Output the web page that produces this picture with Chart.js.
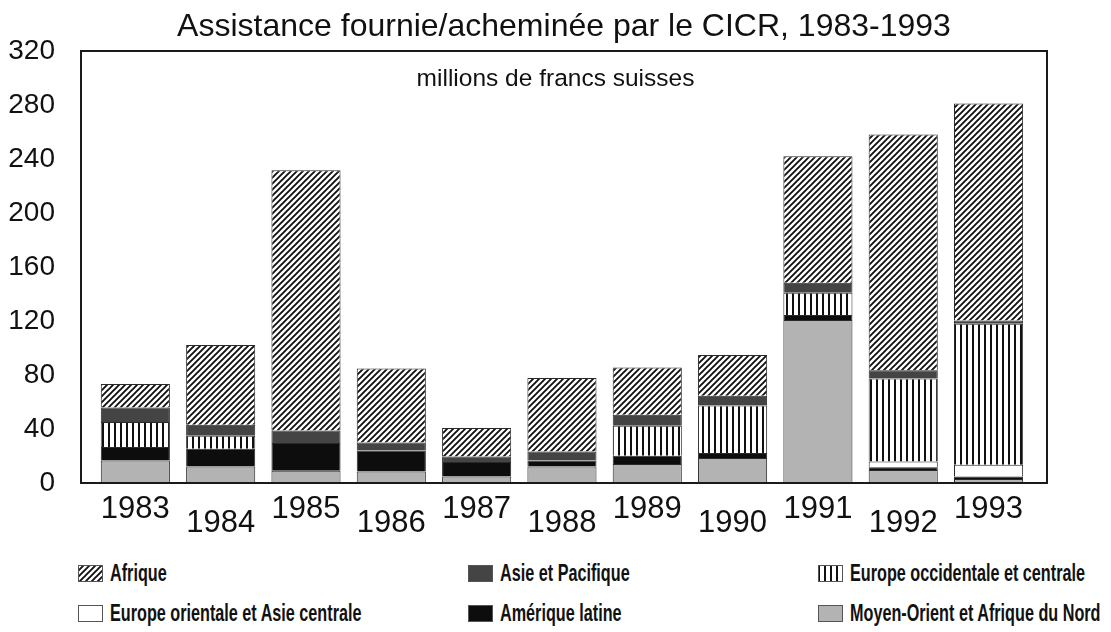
<!DOCTYPE html>
<html>
<head>
<meta charset="utf-8">
<script src="https://cdn.jsdelivr.net/npm/chart.js@4"></script>
<style>
  body { margin: 0; background: #fff; }
  #wrap { position: relative; width: 1111px; height: 632px; overflow: hidden; }
  #c { position: absolute; left: 0; top: 0; }
  .item { position: absolute; height: 17px; }
  .item canvas { position: absolute; left: 0; top: 0; }
  .item span {
    position: absolute; left: 32px; top: -6px; white-space: nowrap;
    font-family: "Liberation Sans", Arial, sans-serif;
    font-weight: bold; font-size: 24px; line-height: 28px; color: #111;
    transform: scaleX(0.675); transform-origin: left center;
  }
</style>
</head>
<body>
<div id="wrap">
  <canvas id="c" width="1111" height="545"></canvas>
  <div id="legend"></div>
</div>
<script>
// values, millions de francs suisses
const years = ['1983', '1984', '1985', '1986', '1987', '1988', '1989', '1990', '1991', '1992', '1993'];
const moyenOrient       = [16.7, 12.3, 9.1, 8.6, 4.9, 12.3, 14.1, 18.5, 120.8, 9.6, 3.0];
const ameriqueLatine    = [9.9, 13.1, 20.5, 15.5, 10.6, 4.4, 6.1, 3.7, 3.7, 2.0, 1.9];
const europeOrientale   = [null, null, null, null, null, null, null, null, null, 4.4, 8.7];
const europeOccidentale = [18.5, 9.6, null, null, null, null, 22.2, 35.2, 16.5, 61.4, 104.3];
const asiePacifique     = [10.8, 8.1, 9.3, 5.9, 4.2, 6.7, 8.1, 7.2, 7.4, 6.2, 2.4];
const afrique           = [17.5, 59.2, 192.8, 54.8, 21.0, 54.3, 35.0, 30.3, 93.7, 174.5, 160.8];
const yTicks = [0, 40, 80, 120, 160, 200, 240, 280, 320];

const title = 'Assistance fournie/acheminée par le CICR, 1983-1993';
const subtitle = 'millions de francs suisses';

// fills: hatch, stripes or plain colour
function makeFill(ctx, kind) {
  const t = document.createElement('canvas');
  const g = t.getContext('2d');
  if (kind === 'hatch') {
    t.width = 6; t.height = 6;
    g.fillStyle = '#fff'; g.fillRect(0, 0, 6, 6);
    g.strokeStyle = '#111'; g.lineWidth = 1.9;
    g.beginPath();
    g.moveTo(-1, 7); g.lineTo(7, -1);
    g.moveTo(-4, 4); g.lineTo(4, -4);
    g.moveTo(2, 10); g.lineTo(10, 2);
    g.stroke();
    return ctx.createPattern(t, 'repeat');
  }
  if (kind === 'stripes') {
    t.width = 6; t.height = 2;
    g.fillStyle = '#fff'; g.fillRect(0, 0, 6, 2);
    g.fillStyle = '#111'; g.fillRect(0, 0, 2, 2);
    return ctx.createPattern(t, 'repeat');
  }
  return kind;
}

const series = [
  { label: 'Moyen-Orient et Afrique du Nord', values: moyenOrient, fill: '#b3b3b3' },
  { label: 'Amérique latine', values: ameriqueLatine, fill: '#0d0d0d' },
  { label: 'Europe orientale et Asie centrale', values: europeOrientale, fill: '#ffffff' },
  { label: 'Europe occidentale et centrale', values: europeOccidentale, fill: 'stripes' },
  { label: 'Asie et Pacifique', values: asiePacifique, fill: '#444444' },
  { label: 'Afrique', values: afrique, fill: 'hatch' }
];
const legendRows = [
  ['Afrique', 'Asie et Pacifique', 'Europe occidentale et centrale'],
  ['Europe orientale et Asie centrale', 'Amérique latine', 'Moyen-Orient et Afrique du Nord']
];

const canvas = document.getElementById('c');
const ctx = canvas.getContext('2d');

const frameAndText = {
  id: 'frameAndText',
  afterDatasetsDraw(chart) {
    const a = chart.chartArea;
    const c = chart.ctx;
    c.save();
    c.strokeStyle = '#1a1a1a';
    c.lineWidth = 2;
    c.strokeRect(a.left, a.top, a.right - a.left, a.bottom - a.top);
    c.fillStyle = '#111';
    c.textAlign = 'center';
    c.textBaseline = 'middle';
    c.font = '32px "Liberation Sans", Arial, sans-serif';
    c.fillText(title, (a.left + a.right) / 2, 27);
    c.font = '24.5px "Liberation Sans", Arial, sans-serif';
    c.fillText(subtitle, chart.width / 2, a.top + 28);
    c.restore();
  }
};

Chart.defaults.font.family = '"Liberation Sans", Arial, sans-serif';
Chart.defaults.color = '#111';

const chart = new Chart(ctx, {
  type: 'bar',
  data: {
    datasets: series.map(s => ({
      label: s.label,
      data: s.values.map((v, i) => ({ x: i, y: v })),
      backgroundColor: makeFill(ctx, s.fill),
      borderColor: '#2a2a2a',
      borderWidth: 1,
      categoryPercentage: 0.9,
      barPercentage: 0.9
    }))
  },
  options: {
    responsive: false,
    animation: false,
    layout: { padding: { top: 51, right: 64, left: 0, bottom: 0 } },
    plugins: {
      legend: { display: false },
      title: { display: false },
      tooltip: { enabled: false }
    },
    scales: {
      x: {
        type: 'linear',
        stacked: true,
        offset: false,
        min: -0.637,
        max: 10.685,
        grid: { display: false, drawTicks: false, offset: false },
        border: { display: false },
        ticks: {
          stepSize: 1,
          includeBounds: false,
          autoSkip: false,
          maxRotation: 0,
          padding: 19,
          font: { size: 31, lineHeight: 0.46 },
          callback: v => Number.isInteger(v) && years[v] ? (v % 2 ? ['', years[v]] : years[v]) : ''
        },
        afterFit: s => { s.height = 62; }
      },
      y: {
        stacked: true,
        min: 0,
        max: 320,
        grid: { display: false, drawTicks: false },
        border: { display: false },
        afterBuildTicks: s => { s.ticks = yTicks.map(v => ({ value: v })); },
        ticks: { padding: 26, font: { size: 28 } },
        afterFit: s => { s.width = 81; }
      }
    }
  },
  plugins: [frameAndText]
});

// legend in three columns, built from the chart's datasets
const legend = document.getElementById('legend');
const colLeft = [78, 468, 818];
const rowTop = [565, 605];
legendRows.forEach((row, r) => {
  row.forEach((name, col) => {
    const ds = chart.data.datasets.find(d => d.label === name);
    const s = series.find(d => d.label === name);
    const item = document.createElement('div');
    item.className = 'item';
    item.style.left = colLeft[col] + 'px';
    item.style.top = rowTop[r] + 'px';
    const sw = document.createElement('canvas');
    sw.width = 25; sw.height = 17;
    const g = sw.getContext('2d');
    g.fillStyle = makeFill(g, s.fill);
    g.fillRect(0, 0, 25, 17);
    g.strokeStyle = '#555';
    g.lineWidth = 1;
    g.strokeRect(0.5, 0.5, 24, 16);
    const txt = document.createElement('span');
    txt.textContent = ds.label;
    item.appendChild(sw);
    item.appendChild(txt);
    legend.appendChild(item);
  });
});
</script>
</body>
</html>
